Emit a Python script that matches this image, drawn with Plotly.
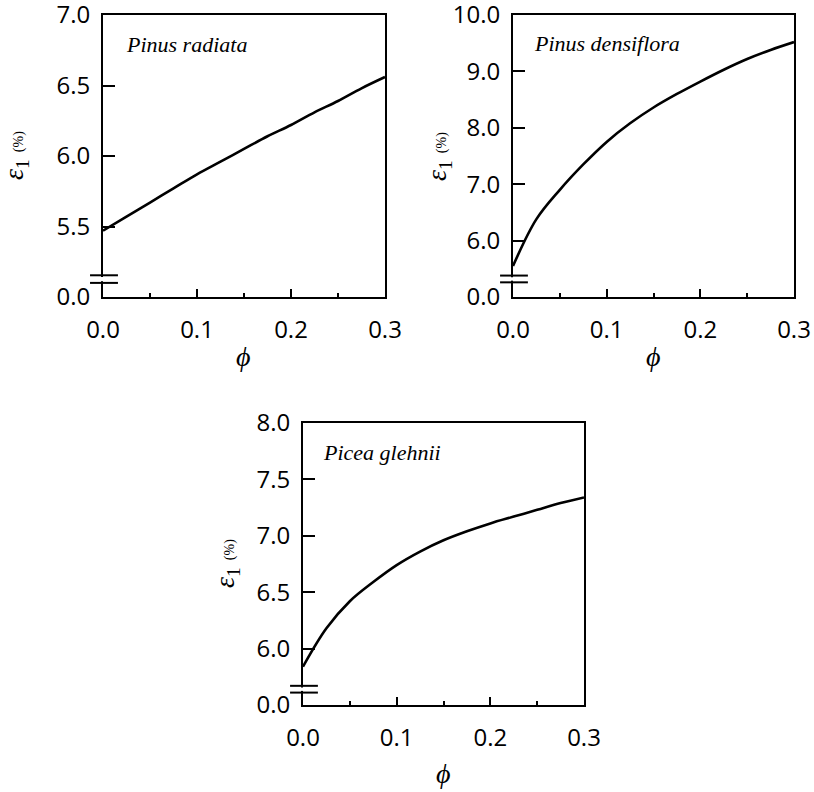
import plotly.graph_objects as go

# ---- data ----
phi = [0.0, 0.025, 0.05, 0.075, 0.1, 0.125, 0.15, 0.175, 0.2, 0.225, 0.25, 0.275, 0.3]
eps_radiata = [5.47, 5.57, 5.67, 5.77, 5.87, 5.96, 6.05, 6.14, 6.22, 6.31, 6.39, 6.48, 6.56]
eps_densiflora = [5.55, 6.38, 6.90, 7.35, 7.75, 8.08, 8.36, 8.60, 8.82, 9.03, 9.22, 9.38, 9.52]
eps_glehnii = [5.84, 6.18, 6.42, 6.59, 6.74, 6.86, 6.96, 7.04, 7.11, 7.17, 7.23, 7.29, 7.34]

species = ["Pinus radiata", "Pinus densiflora", "Picea glehnii"]
x_ticks = [0.0, 0.1, 0.2, 0.3]
x_ticktext = ["0.0", "0.1", "0.2", "0.3"]
y_ticks = [
    [5.0, 5.5, 6.0, 6.5, 7.0],
    [5.0, 6.0, 7.0, 8.0, 9.0, 10.0],
    [5.5, 6.0, 6.5, 7.0, 7.5, 8.0],
]
y_ticktext = [
    ["0.0", "5.5", "6.0", "6.5", "7.0"],
    ["0.0", "6.0", "7.0", "8.0", "9.0", "10.0"],
    ["0.0", "6.0", "6.5", "7.0", "7.5", "8.0"],
]
series = [eps_radiata, eps_densiflora, eps_glehnii]

W, H = 814, 792
# panel boxes in window pixels: (left, right, top, bottom)
boxes = [(103, 385, 15, 297), (513, 794, 15, 297), (303, 584, 423, 705)]
breaks = [(0.050, 0.077), (0.052, 0.076), (0.044, 0.068)]
label_pos = [(0.075, 0.895), (0.068, 0.9), (0.064, 0.897)]
title_y_off = [60, 60, 68]
ytitle_x = [15, 438, 226]

TICKFONT = dict(family="Open Sans, Liberation Sans, sans-serif", size=24, color="black")
SERIF = "Liberation Serif, Times New Roman, serif"


def px(x):
    return x / W


def py(y):
    return 1 - y / H


fig = go.Figure()
annotations = []
shapes = []
for i in range(3):
    n = "" if i == 0 else str(i + 1)
    xa, ya = "x" + n, "y" + n
    l, r, t, b = boxes[i]
    fig.add_trace(go.Scatter(x=phi, y=series[i], mode="lines",
                             line=dict(color="black", width=2.6, shape="spline", smoothing=1.0),
                             xaxis=xa, yaxis=ya, showlegend=False, hoverinfo="skip"))
    fig.update_layout(**{
        "xaxis" + n: dict(domain=[px(l), min(px(r), 1.0)], range=[0, 0.3], anchor=ya,
                          tickvals=x_ticks, ticktext=x_ticktext, ticks="inside",
                          ticklen=8, tickwidth=2, tickcolor="black",
                          minor=dict(ticks="inside", ticklen=4, tickwidth=1.5,
                                     dtick=0.05, tick0=0, tickcolor="black"),
                          showline=True, linewidth=2, linecolor="black", mirror=True,
                          showgrid=False, zeroline=False, tickfont=TICKFONT,
                          ticklabelstandoff=10, ticklabeloverflow="allow",
                          fixedrange=True, automargin=False),
        "yaxis" + n: dict(domain=[py(b), py(t)],
                          range=[y_ticks[i][0], y_ticks[i][-1]], anchor=xa,
                          tickvals=y_ticks[i], ticktext=y_ticktext[i], ticks="inside",
                          ticklen=12, tickwidth=2, tickcolor="black",
                          showline=True, linewidth=2, linecolor="black", mirror=True,
                          showgrid=False, zeroline=False, tickfont=TICKFONT,
                          ticklabelstandoff=6, ticklabeloverflow="allow",
                          fixedrange=True, automargin=False),
    })
    # species label
    annotations.append(dict(text="<i>" + species[i] + "</i>", xref=xa + " domain",
                            yref=ya + " domain", x=label_pos[i][0], y=label_pos[i][1],
                            xanchor="left", yanchor="middle", showarrow=False,
                            font=dict(family=SERIF, size=22, color="black")))
    # x title
    annotations.append(dict(text="<i>ϕ</i>", xref="paper", yref="paper",
                            x=px((l + r) / 2), y=py(b + title_y_off[i]),
                            xanchor="center", yanchor="middle", showarrow=False,
                            font=dict(family=SERIF, size=28, color="black")))
    # y title
    annotations.append(dict(text="<i>ε</i><sub>1</sub> <span style='font-size:14px'>(%)</span>",
                            xref="paper", yref="paper",
                            x=px(ytitle_x[i]), y=py((t + b) / 2),
                            xanchor="center", yanchor="middle", showarrow=False,
                            textangle=-90,
                            font=dict(family=SERIF, size=28, color="black")))
    # axis break marks
    y0, y1 = breaks[i]
    shapes.append(dict(type="rect", xref=xa + " domain", yref=ya + " domain",
                       x0=-0.012, x1=0.012, y0=y0 + 0.006, y1=y1 - 0.006,
                       fillcolor="white", line=dict(width=0), layer="above"))
    for yy in (y0, y1):
        shapes.append(dict(type="line", xref=xa + " domain", yref=ya + " domain",
                           x0=-0.046, x1=0.053, y0=yy, y1=yy,
                           line=dict(color="black", width=2), layer="above"))

fig.update_layout(width=W, height=H, margin=dict(l=0, r=0, t=0, b=0),
                  plot_bgcolor="white", paper_bgcolor="white",
                  annotations=annotations, shapes=shapes)
fig.write_html("out.html", config={"displayModeBar": False},
               post_script="document.body.style.margin='0';document.body.style.overflow='hidden';")
